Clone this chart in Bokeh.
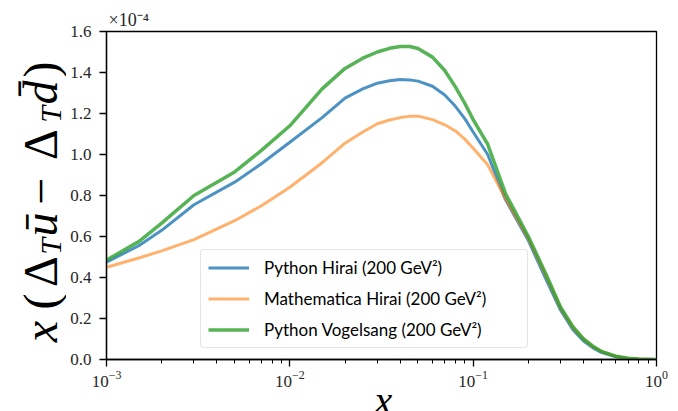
import math
from bokeh.plotting import figure
from bokeh.models import FixedTicker, PrintfTickFormatter, Title
from bokeh.layouts import row, column
from bokeh.core.properties import value
from bokeh.embed import file_html
from bokeh.resources import INLINE

# ---- data (values in units of 1e-4) ----
x_vals = [0.001, 0.0015, 0.002, 0.003, 0.005, 0.007, 0.01, 0.015, 0.02, 0.025,
          0.03, 0.035, 0.04, 0.045, 0.05, 0.06, 0.07, 0.08, 0.09, 0.1, 0.12,
          0.15, 0.2, 0.25, 0.3, 0.35, 0.4, 0.45, 0.5, 0.6, 0.7, 0.8, 1.0]
python_hirai = [0.475, 0.555, 0.63, 0.755, 0.865, 0.955, 1.06, 1.18, 1.275, 1.32,
                1.348, 1.36, 1.366, 1.364, 1.358, 1.333, 1.29, 1.235, 1.175, 1.11, 1.0,
                0.78, 0.58, 0.39, 0.24, 0.145, 0.09, 0.057, 0.035, 0.013, 0.004, 0.001, 0.0]
mathematica_hirai = [0.45, 0.495, 0.53, 0.585, 0.677, 0.75, 0.84, 0.96, 1.055, 1.11,
                     1.15, 1.168, 1.18, 1.186, 1.187, 1.17, 1.145, 1.115, 1.075, 1.03, 0.95,
                     0.785, 0.59, 0.405, 0.25, 0.155, 0.10, 0.062, 0.04, 0.015, 0.005, 0.002, 0.0]
python_vogelsang = [0.485, 0.575, 0.665, 0.80, 0.915, 1.02, 1.14, 1.32, 1.42, 1.47,
                    1.50, 1.518, 1.527, 1.527, 1.517, 1.475, 1.41, 1.33, 1.25, 1.17, 1.05,
                    0.81, 0.60, 0.415, 0.255, 0.16, 0.10, 0.065, 0.04, 0.016, 0.006, 0.002, 0.0]

y_ticks = [0.0, 0.2, 0.4, 0.6, 0.8, 1.0, 1.2, 1.4, 1.6]
x_ticks = [0.001, 0.01, 0.1, 1.0]
legend_labels = ["Python Hirai (200 GeV\u00b2)",
                 "Mathematica Hirai (200 GeV\u00b2)",
                 "Python Vogelsang (200 GeV\u00b2)"]
offset_text = "\u00d710\u207b\u2074"
x_label = "x"

SERIF = "Liberation Serif"
W_LEFT = 66          # width of the y-label strip
MAIN_W = 678 - W_LEFT
MAIN_H = 391
XLAB_H = 411 - MAIN_H

# ---------------- main plot ----------------
p = figure(width=MAIN_W, height=MAIN_H, x_axis_type="log",
           x_range=(0.001, 1.0), y_range=(0.0, 1.6),
           output_backend="svg", toolbar_location=None,
           min_border_left=106 - W_LEFT, min_border_right=22,
           min_border_top=31, min_border_bottom=32)

p.title = Title(text=offset_text, align="left", offset=2, standoff=3,
                text_font=SERIF, text_font_style="normal",
                text_font_size="18px", text_color="#262626")

p.xgrid.visible = False
p.ygrid.visible = False
p.outline_line_color = "black"
p.outline_line_width = 1.3

minor = [m * 10 ** e for e in (-3, -2, -1) for m in range(2, 10)]
p.xaxis.ticker = FixedTicker(ticks=x_ticks, minor_ticks=minor)
p.yaxis.ticker = FixedTicker(ticks=y_ticks)
p.yaxis.formatter = PrintfTickFormatter(format="%.1f")

for ax in (p.xaxis, p.yaxis):
    ax.axis_line_color = "black"
    ax.axis_line_width = 1.3
    ax.major_tick_line_color = "black"
    ax.major_tick_line_width = 1.3
    ax.major_tick_out = 7
    ax.major_tick_in = 0
    ax.minor_tick_line_color = "black"
    ax.minor_tick_line_width = 1.0
    ax.minor_tick_out = 4
    ax.minor_tick_in = 0
    ax.major_label_text_font = SERIF
    ax.major_label_text_font_size = "17px"
    ax.major_label_text_color = "#262626"
p.yaxis.minor_tick_line_color = None
p.yaxis.major_label_standoff = 8
p.xaxis.major_label_standoff = 4

p.line(x_vals, python_hirai, line_color="#1f77b4", line_alpha=0.8, line_width=3,
       legend_label=legend_labels[0])
p.line(x_vals, mathematica_hirai, line_color="#ff7f0e", line_alpha=0.6, line_width=3,
       legend_label=legend_labels[1])
p.line(x_vals, python_vogelsang, line_color="#2ca02c", line_alpha=0.8, line_width=3.5,
       legend_label=legend_labels[2])

lg = p.legend[0]
lg.location = (94, 11)
lg.label_text_font = "Lato"
lg.label_text_font_size = "17px"
lg.label_text_color = "black"
lg.label_standoff = 15
lg.glyph_width = 41
lg.glyph_height = 21
lg.label_height = 21
lg.label_width = 256
lg.spacing = 10
lg.padding = 7
lg.margin = 0
lg.border_line_color = "#cccccc"
lg.border_line_width = 1
lg.border_radius = 4
lg.background_fill_alpha = 0.8


def strip(width, height, xr, yr):
    f = figure(width=width, height=height, x_range=xr, y_range=yr,
               output_backend="svg", toolbar_location=None, title_location=None,
               x_axis_location=None, y_axis_location=None, min_border=0)
    f.outline_line_color = None
    f.xgrid.visible = False
    f.ygrid.visible = False
    return f


# ---------------- y-axis label strip (page coordinates, y flipped) ----------------
ys = strip(W_LEFT, 411, (0, W_LEFT), (0, 411))
pieces = [
    ("x", "italic", "48px", 331, 40),
    ("(", "normal", "48px", 301, 40),
    ("\u0394", "normal", "48px", 271, 40),
    ("T", "italic", "30px", 246, 50),
    ("\u016b", "italic", "48px", 224, 40),
    ("\u2212", "normal", "48px", 191, 40),
    ("\u0394", "normal", "48px", 144, 40),
    ("T", "italic", "30px", 114, 50),
    ("d\u0304", "italic", "48px", 92, 40),
    (")", "normal", "48px", 69, 40),
]
for txt, style, size, cy, bx in pieces:
    ys.text(x=[bx], y=[411 - cy], text=[txt], angle=math.pi / 2,
            text_font=value(SERIF), text_font_style=value(style),
            text_font_size=value(size), text_color="black",
            text_align="center", text_baseline="alphabetic")

# ---------------- x-axis label strip ----------------
xs = strip(MAIN_W, XLAB_H, (W_LEFT, 678), (0, XLAB_H))
xs.text(x=[374], y=[11], text=[x_label], text_font=value(SERIF),
        text_font_style=value("italic"), text_font_size=value("40px"),
        text_color="black", text_align="center", text_baseline="alphabetic")

layout = row(ys, column(p, xs, spacing=0), spacing=0)

open("out.html", "w").write(file_html(layout, INLINE))
